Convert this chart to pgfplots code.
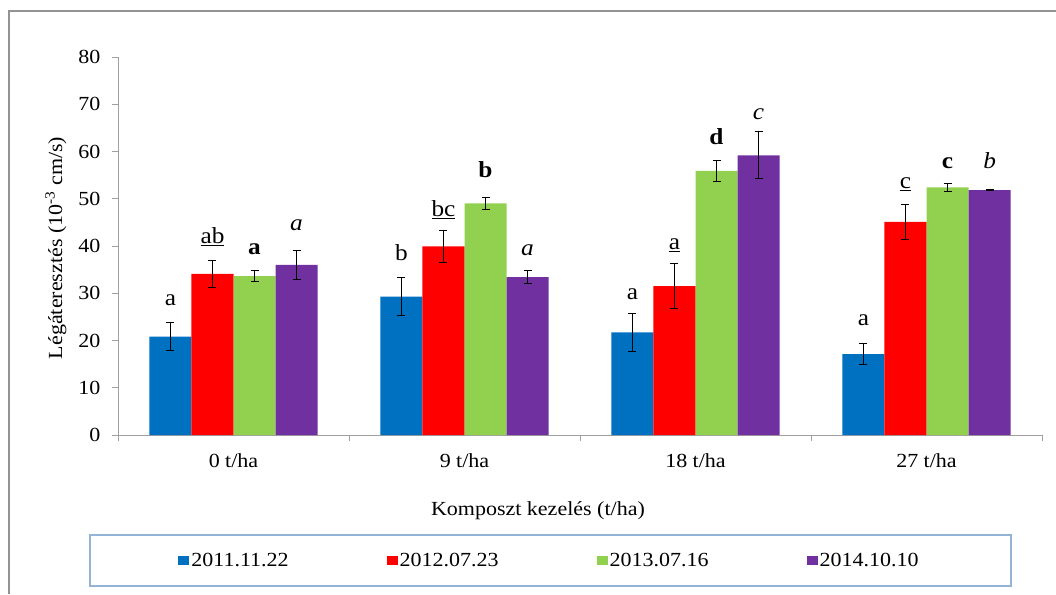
\documentclass[border=0pt]{standalone}
\usepackage{fontspec}
\setmainfont{Liberation Serif}[FakeStretch=1.1]
\usepackage{pgfplots}
\pgfplotsset{compat=1.18}
\definecolor{cblue}{HTML}{0070C0}
\definecolor{cred}{HTML}{FF0000}
\definecolor{cgreen}{HTML}{92D050}
\definecolor{cpurple}{HTML}{7030A0}
\definecolor{axgray}{HTML}{A0A0A0}
\definecolor{legframe}{HTML}{95B3D7}
\newcommand\tfont{\fontsize{20}{24}\selectfont}
\newcommand\lfont{\fontsize{23}{27}\selectfont}
\pgfplotsset{mybar/.style={legend image code/.code={\fill[##1] (0pt,-4.5pt) rectangle (11pt,4.5pt);}}}
\begin{document}
\begin{tikzpicture}[x=1pt,y=1pt]
\useasboundingbox (0,0) rectangle (1056,594);
\draw[line width=2pt, color=gray!85] (9,0) -- (9,583) -- (1056,583);
\draw[line width=1.2pt, color=legframe] (90,8) rectangle (1011,59);
\begin{axis}[
  at={(118pt,159pt)}, anchor=south west,
  scale only axis, width=924pt, height=378pt,
  xmin=-0.5, xmax=3.5, ymin=0, ymax=80,
  axis x line*=bottom, axis y line*=left,
  axis line style={draw=axgray, line width=0.9pt, -},
  tick style={draw=axgray, line width=0.9pt},
  tick align=outside, major tick length=6pt,
  ytick={0,10,...,80},
  xtick={-0.5,0.5,1.5,2.5,3.5}, xticklabels={},
  extra x ticks={0,1,2,3},
  extra x tick labels={0 t/ha, 9 t/ha, 18 t/ha, 27 t/ha},
  extra x tick style={major tick length=0pt},
  xticklabel style={anchor=base, yshift=-32pt, font=\tfont},
  yticklabel style={font=\tfont, xshift=-8pt},
  /pgf/number format/assume math mode=true,
  xlabel={Komposzt kezelés (t/ha)},
  ylabel={Légáteresztés (10\textsuperscript{-3} cm/s)},
  xlabel style={at={(axis description cs:0.4545,-0.2)}, anchor=center, font=\tfont},
  ylabel style={at={(axis description cs:-0.0671,0.495)}, anchor=center, font=\tfont},
  ybar=0pt, bar width=0.182,
  error bars/y dir=both, error bars/y explicit,
  error bars/error bar style={black, line width=0.9pt},
  error bars/error mark options={rotate=90, mark size=4pt, black, line width=0.9pt},
  legend columns=4,
  legend style={at={(axis description cs:0.467,-0.331)}, anchor=center, draw=none, fill=none,
    font=\tfont, /tikz/every even column/.append style={column sep=96pt}},
]
\addplot[fill=cblue, draw=none, mybar]
  coordinates {(0,20.8) +- (0,3.0) (1,29.3) +- (0,4.1) (2,21.7) +- (0,4.0) (3,17.1) +- (0,2.25)};
\addplot[fill=cred, draw=none, mybar]
  coordinates {(0,34.1) +- (0,2.9) (1,39.9) +- (0,3.3) (2,31.5) +- (0,4.75) (3,45.1) +- (0,3.65)};
\addplot[fill=cgreen, draw=none, mybar]
  coordinates {(0,33.65) +- (0,1.2) (1,49.0) +- (0,1.2) (2,55.9) +- (0,2.15) (3,52.4) +- (0,0.75)};
\addplot[fill=cpurple, draw=none, mybar]
  coordinates {(0,36.0) +- (0,3.1) (1,33.4) +- (0,1.4) (2,59.2) +- (0,5.0) (3,51.8) +- (0,0.1)};
\legend{2011.11.22, 2012.07.23, 2013.07.16, 2014.10.10}
% significance letters
\node[anchor=base, font=\lfont] at (axis cs:-0.273,27.5) {a};
\node[anchor=base, font=\lfont] at (axis cs:-0.091,40.6) {\underline{ab}};
\node[anchor=base, font=\lfont] at (axis cs:0.091,38.3) {\textbf{a}};
\node[anchor=base, font=\lfont] at (axis cs:0.273,43.2) {\textit{a}};
\node[anchor=base, font=\lfont] at (axis cs:0.727,36.9) {b};
\node[anchor=base, font=\lfont] at (axis cs:0.909,46.2) {\underline{bc}};
\node[anchor=base, font=\lfont] at (axis cs:1.091,54.5) {\textbf{b}};
\node[anchor=base, font=\lfont] at (axis cs:1.273,38.0) {\textit{a}};
\node[anchor=base, font=\lfont] at (axis cs:1.727,28.6) {a};
\node[anchor=base, font=\lfont] at (axis cs:1.909,39.3) {\underline{a}};
\node[anchor=base, font=\lfont] at (axis cs:2.091,61.5) {\textbf{d}};
\node[anchor=base, font=\lfont] at (axis cs:2.273,66.8) {\textit{c}};
\node[anchor=base, font=\lfont] at (axis cs:2.727,23.1) {a};
\node[anchor=base, font=\lfont] at (axis cs:2.909,52.2) {\underline{c}};
\node[anchor=base, font=\lfont] at (axis cs:3.091,56.3) {\textbf{c}};
\node[anchor=base, font=\lfont] at (axis cs:3.273,56.4) {\textit{b}};
\end{axis}
\end{tikzpicture}
\end{document}
